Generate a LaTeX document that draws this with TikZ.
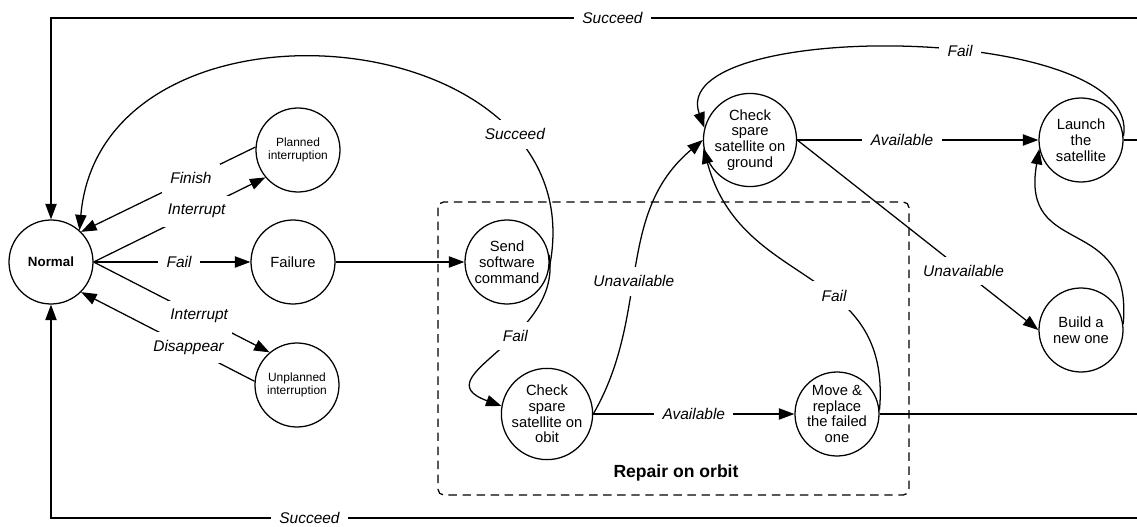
\documentclass[tikz,border=0pt]{standalone}
\usepackage{fontspec}
\setmainfont{Liberation Sans}
\usetikzlibrary{arrows.meta}

\begin{document}
\begin{tikzpicture}[line width=0.9pt,
        state/.style={circle, draw, minimum size=2.1cm, inner sep=0pt, align=center, font=\fontsize{10.5}{11.2}\selectfont},
        small/.style={font=\fontsize{8.5}{9}\selectfont},
        lbl/.style={fill=white, inner xsep=6pt, inner ysep=6pt, font=\fontsize{11}{13}\selectfont\itshape},
        arr/.style={-{Triangle[length=11pt,width=8pt]}}]
        \useasboundingbox (0,0) rectangle (28.425,13.15);

        \node[state, font=\fontsize{9.5}{10}\selectfont\bfseries] (normal) at (1.275,6.6) {Normal};
        \node[state, small] (planned) at (7.45,9.4) {Planned\\interruption};
        \node[state] (failure) at (7.325,6.6) {Failure};
        \node[state, small] (unplanned) at (7.425,3.525) {Unplanned\\interruption};
        \node[state] (send) at (12.675,6.6) {Send\\software\\command};
        \node[state] (obit) at (13.675,2.8) {Check\\spare\\satellite on\\obit};
        \node[state] (move) at (20.925,2.8) {Move \&\\replace\\the failed\\one};
        \node[state] (ground) at (18.75,9.65) {Check\\spare\\satellite on\\ground};
        \node[state] (launch) at (27.025,9.65) {Launch\\the\\satellite};
        \node[state] (build) at (27.025,4.9) {Build a\\new one};

        % Dashed box round the repair states
        \draw[dashed, dash pattern=on 6pt off 4pt, rounded corners=4pt] (10.95,8.1) rectangle (22.725,0.775);
        \node[font=\fontsize{12.5}{14}\selectfont\bfseries] (repair) at (16.9,1.325) {Repair on orbit};

        \coordinate (topR) at (28.425,12.7);
        \coordinate (topL) at (1.275,12.7);
        \coordinate (botR) at (28.425,0.2);
        \coordinate (botL) at (1.275,0.2);
        \coordinate (launchR) at (28.425,9.65);
        \coordinate (moveR) at (28.425,2.8);

        \draw[arr] (normal.east) -- node[lbl, pos=0.6] {Interrupt} (planned.220);
        \draw[arr] (planned.176) -- node[lbl, pos=0.37] {Finish} (normal.45);
        \draw[arr] (normal.east) -- node[lbl, pos=0.545] {Fail} (failure.west);
        \draw[arr] (normal.east) -- node[lbl, pos=0.6] {Interrupt} (unplanned.130);
        \draw[arr] (unplanned.175) -- node[lbl, pos=0.38] {Disappear} (normal.-45);
        \draw[arr] (failure.east) -- (send.west);

        \draw[arr] (send.-10) to[out=78, in=85, looseness=1.4] node[lbl, pos=0.22] {Succeed} (normal.48);
        \draw[arr] (send.10) to[out=-80, in=160, looseness=1.4] node[lbl, pos=0.4] {Fail} (obit.170);
        \draw[arr] (obit.east) -- node[lbl] {Available} (move.west);
        \draw[arr] (obit.east) to[out=60, in=220] node[lbl, pos=0.45] {Unavailable} (ground.180);
        \draw[arr] (move.5) to[out=85, in=-75, looseness=1.2] node[lbl, pos=0.4] {Fail} (ground.190);

        \draw[arr] (ground.east) -- node[lbl, pos=0.435] {Available} (launch.west);
        \draw[arr] (ground.east) -- node[lbl, pos=0.69] {Unavailable} (build.west);
        \draw[arr] (launch.5) to[out=80, in=110, looseness=0.71] node[lbl, pos=0.42] {Fail} (ground.165);
        \draw[arr] (build.8) to[out=85, in=-100, looseness=1.5] (launch.192);

        % Lines leaving the picture on the right
        \draw (launch.east) -- (launchR);
        \draw (move.east) -- (moveR);
        \draw[arr] (topR) -- node[lbl, pos=0.483] {Succeed} (topL) -- (normal);
        \draw[arr] (botR) -- node[lbl, pos=0.762] {Succeed} (botL) -- (normal);
\end{tikzpicture}
\end{document}
